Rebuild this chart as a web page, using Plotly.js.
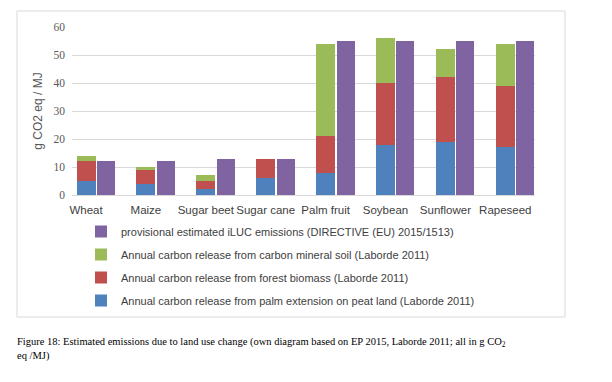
<!DOCTYPE html>
<html>
<head>
<meta charset="utf-8">
<script src="https://cdn.plot.ly/plotly-3.0.1.min.js"></script>
<style>
  html, body { margin: 0; padding: 0; background: #fff; }
  #chart { width: 612px; height: 382px; }
</style>
</head>
<body>
<div id="chart"></div>
<script>
var categories = ["Wheat", "Maize", "Sugar beet", "Sugar cane", "Palm fruit", "Soybean", "Sunflower", "Rapeseed"];
var peatLand = [5, 4, 2, 6, 8, 18, 19, 17];
var forestBiomass = [7, 5, 3, 7, 13, 22, 23, 22];
var mineralSoil = [2, 1, 2, 0, 33, 16, 10, 15];
var directiveILUC = [12, 12, 13, 13, 55, 55, 55, 55];

var names = {
  peat: "Annual carbon release from palm extension on peat land (Laborde 2011)",
  forest: "Annual carbon release from forest biomass (Laborde 2011)",
  soil: "Annual carbon release from carbon mineral soil (Laborde 2011)",
  iluc: "provisional estimated iLUC emissions (DIRECTIVE (EU) 2015/1513)"
};

var pos = categories.map(function (c, i) { return i; });
var posRight = categories.map(function (c, i) { return i + 0.333; });

var stackW = 0.317, rightW = 0.3;

function bar(x, y, name, color, w, grp, rank) {
  return { type: "bar", x: x, y: y, name: name, width: w,
    marker: { color: color, line: { width: 0 } },
    legendgroup: grp, legendrank: rank, hoverinfo: "y+name" };
}

var traces = [
  bar(pos, peatLand, names.peat, "#4F81BD", stackW, "a", 4),
  bar(pos, forestBiomass, names.forest, "#C0504D", stackW, "b", 3),
  bar(pos, mineralSoil, names.soil, "#9BBB59", stackW, "c", 2),
  bar(posRight, directiveILUC, names.iluc, "#8064A2", rightW, "d", 1)
];

var L = 72, R = 535, T = 27, B = 195;
var W = R - L, H = B - T;
function px(p) { return (p - L) / W; }
function py(p) { return (B - p) / H; }

var layout = {
  width: 612, height: 382,
  margin: { l: L, r: 612 - R, t: T, b: 382 - B },
  paper_bgcolor: "#ffffff", plot_bgcolor: "#ffffff",
  barmode: "stack",
  showlegend: true,
  xaxis: {
    range: [-0.234, 7.496], tickmode: "array", tickvals: pos, ticktext: categories,
    tickangle: 0,
    showgrid: false, zeroline: false, showline: true, linecolor: "#d9d9d9", linewidth: 1,
    ticks: "", ticklabelstandoff: 4,
    tickfont: { family: "Liberation Sans, Arial, sans-serif", size: 11.5, color: "#404040" },
    fixedrange: true
  },
  yaxis: {
    range: [0, 60], dtick: 10, showgrid: true, gridcolor: "#d9d9d9", gridwidth: 1,
    zeroline: false, showline: false, ticks: "", ticklabelstandoff: 6,
    tickfont: { family: "Liberation Serif, Times New Roman, serif", size: 11.5, color: "#595959" },
    title: { text: "g CO2 eq / MJ", standoff: 8,
      font: { family: "Liberation Sans, Arial, sans-serif", size: 12, color: "#595959" } },
    fixedrange: true
  },
  legend: {
    orientation: "v", traceorder: "grouped", tracegroupgap: 4,
    x: px(81), xanchor: "left", y: py(217), yanchor: "top",
    font: { family: "Liberation Sans, Arial, sans-serif", size: 11, color: "#404040" },
    bgcolor: "rgba(0,0,0,0)"
  },
  shapes: [{
    type: "rect", xref: "paper", yref: "paper",
    x0: px(17), x1: px(565), y0: py(317), y1: py(11),
    line: { color: "#d9d9d9", width: 1 }, fillcolor: "rgba(0,0,0,0)", layer: "below"
  }],
  annotations: [{
    xref: "paper", yref: "paper", x: px(15), y: py(334), xanchor: "left", yanchor: "top",
    align: "left", showarrow: false,
    text: "Figure 18: Estimated emissions due to land use change (own diagram based on EP 2015, Laborde 2011; all in g CO<sub>2</sub><br>eq /MJ)",
    font: { family: "Liberation Serif, Times New Roman, serif", size: 10.5, color: "#000000" }
  }]
};

Plotly.newPlot("chart", traces, layout, { displayModeBar: false, staticPlot: true });
</script>
</body>
</html>
